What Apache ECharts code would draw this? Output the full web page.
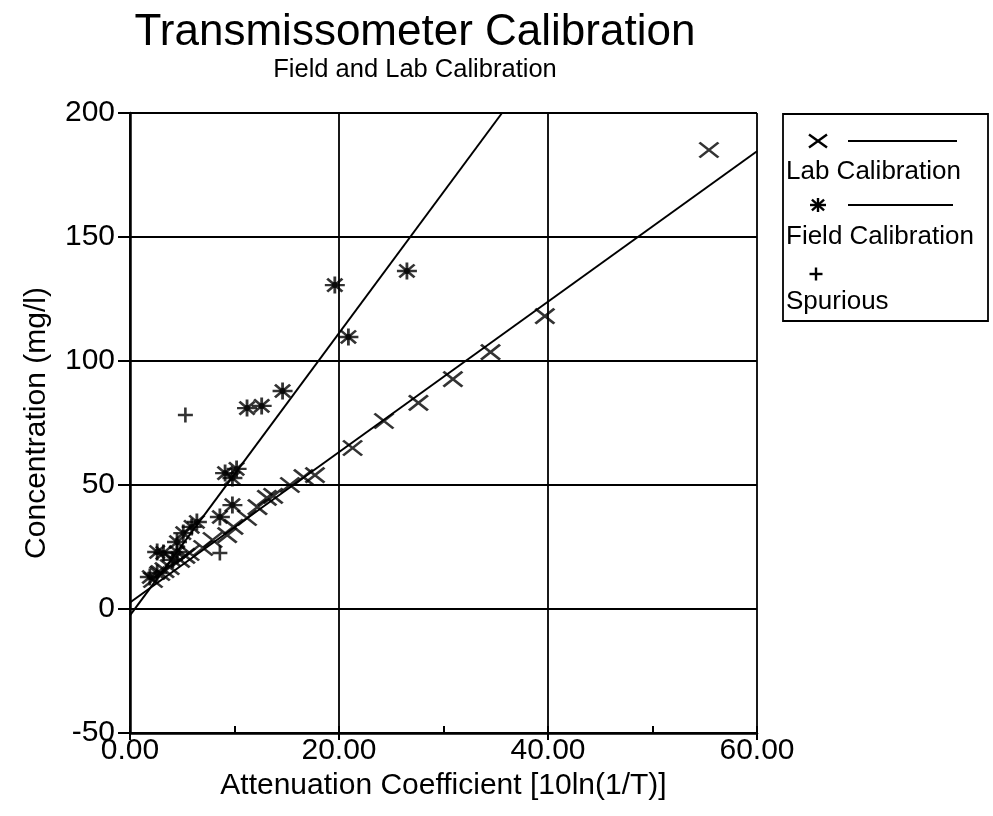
<!DOCTYPE html>
<html>
<head>
<meta charset="utf-8">
<script src="https://cdn.jsdelivr.net/npm/echarts@6/dist/echarts.min.js"></script>
<style>
  html, body { margin: 0; padding: 0; background: #fff; }
  #chart { width: 993px; height: 816px; }
</style>
</head>
<body>
<div id="chart"></div>
<script>
// Attenuation coefficient [10ln(1/T)] vs. concentration (mg/l)
const labCalibration = [
  [55.4, 185.1], [39.7, 118.1], [34.5, 103.6], [30.9, 92.7], [27.6, 83.1],
  [24.3, 75.8], [21.3, 64.9], [17.7, 54.0], [16.6, 53.2], [15.3, 50.0],
  [13.7, 45.6], [13.1, 44.8], [12.2, 41.1], [11.2, 36.7], [9.9, 33.1],
  [9.3, 29.8], [7.9, 27.8], [7.0, 24.6], [5.7, 22.6], [5.3, 21.4],
  [4.8, 19.8], [3.8, 16.9], [3.3, 15.7], [2.9, 14.5], [2.2, 11.7]
];
const fieldCalibration = [
  [26.5, 136.3], [19.6, 130.6], [20.9, 109.7], [14.6, 87.9], [12.6, 81.9],
  [11.2, 81.0], [10.2, 56.5], [9.1, 54.8], [9.8, 52.8], [9.8, 41.9],
  [8.6, 37.1], [6.4, 35.1], [5.9, 33.1], [5.1, 30.6], [4.5, 27.0],
  [2.6, 23.0], [3.2, 22.6], [4.5, 23.0], [4.1, 19.8], [2.6, 14.5],
  [1.9, 12.9]
];
const spurious = [[5.3, 78.2], [8.6, 22.6]];

// fitted calibration lines (end points)
const labFit = [[0, 2.6], [60, 184.6]];
const fieldFit = [[0, -2.6], [35.6, 200]];

const xTickValues = [0, 20, 40, 60];
const yTickValues = [-50, 0, 50, 100, 150, 200];

const FONT = '"Liberation Sans", Arial, Helvetica, sans-serif';
const INK = '#000';

// marker strokes in a unit box (x1, y1, x2, y2)
const STROKES_X = [[0, 0, 1, 1], [1, 0, 0, 1]];
const STROKES_STAR = [[0.5, 0, 0.5, 1], [0, 0.5, 1, 0.5], [0.12, 0.12, 0.88, 0.88], [0.88, 0.12, 0.12, 0.88]];
const STROKES_PLUS = [[0.5, 0, 0.5, 1], [0, 0.5, 1, 0.5]];

function toPath(strokes) {
  return 'path://' + strokes.map(s => 'M' + s[0] * 100 + ',' + s[1] * 100 + 'L' + s[2] * 100 + ',' + s[3] * 100).join('');
}

const chart = echarts.init(document.getElementById('chart'), null, { renderer: 'canvas' });

function markerSeries(name, data, strokes, size) {
  return {
    name, type: 'scatter', data, symbol: toPath(strokes), symbolSize: size,
    itemStyle: { color: 'rgba(0,0,0,0)', borderColor: INK, borderWidth: 2.6 },
    silent: true, z: 4
  };
}
function fitSeries(name, data) {
  return {
    name, type: 'line', data, symbol: 'none', silent: true, z: 3,
    lineStyle: { color: INK, width: 2 }
  };
}

// legend drawn as a boxed list: marker + line on one row, name below it
const legendX = 783, legendY = 114, legendW = 205, legendH = 207;
function seg(x1, y1, x2, y2, w) {
  return { type: 'line', shape: { x1, y1, x2, y2 }, style: { stroke: INK, lineWidth: w || 2 } };
}
function legendMarker(strokes, cx, cy, w, h) {
  const x0 = cx - w / 2, y0 = cy - h / 2;
  return strokes.map(s => seg(x0 + s[0] * w, y0 + s[1] * h, x0 + s[2] * w, y0 + s[3] * h, 2.4));
}
function legendText(text, y) {
  return {
    type: 'text', x: 786, y,
    style: { text, font: '26px ' + FONT, fill: INK, textVerticalAlign: 'middle', textAlign: 'left' }
  };
}

chart.setOption({
  animation: false,
  backgroundColor: '#fff',
  title: {
    text: 'Transmissometer Calibration',
    subtext: 'Field and Lab Calibration',
    left: 410, top: 6, textAlign: 'center', itemGap: 2,
    textStyle: { fontFamily: FONT, fontSize: 44, fontWeight: 'normal', color: INK },
    subtextStyle: { fontFamily: FONT, fontSize: 25.5, color: INK }
  },
  grid: { left: 130, right: 236, top: 113, bottom: 83 },
  xAxis: [{
    type: 'value', min: 0, max: 60, interval: 20,
    name: 'Attenuation Coefficient [10ln(1/T)]',
    nameLocation: 'middle', nameGap: 37,
    nameTextStyle: { fontFamily: FONT, fontSize: 30, color: INK },
    axisLine: { onZero: false, lineStyle: { color: INK, width: 2.5 } },
    axisTick: { length: 7, lineStyle: { color: INK, width: 2 } },
    axisLabel: {
      fontFamily: FONT, fontSize: 30, color: INK, margin: 3,
      formatter: v => xTickValues.includes(v) ? v.toFixed(2) : ''
    },
    splitLine: { show: true, lineStyle: { color: INK, width: 1.8 } }
  }, {
    // short inside ticks at the half steps
    type: 'value', min: 0, max: 60, interval: 10, position: 'bottom', offset: 0,
    axisLine: { show: false, onZero: false },
    axisTick: { inside: true, length: 7, lineStyle: { color: INK, width: 2 } },
    axisLabel: { show: false },
    splitLine: { show: false }
  }],
  yAxis: {
    type: 'value', min: -50, max: 200, interval: 50,
    name: 'Concentration (mg/l)',
    nameLocation: 'middle', nameGap: 78,
    nameTextStyle: { fontFamily: FONT, fontSize: 30, color: INK },
    axisLine: { onZero: false, lineStyle: { color: INK, width: 2.5 } },
    axisTick: { length: 12, lineStyle: { color: INK, width: 2 } },
    axisLabel: {
      fontFamily: FONT, fontSize: 30, color: INK, margin: 15,
      formatter: v => yTickValues.includes(v) ? String(v) : ''
    },
    splitLine: { show: true, lineStyle: { color: INK, width: 1.8 } }
  },
  series: [
    fitSeries('Lab Calibration fit', labFit),
    fitSeries('Field Calibration fit', fieldFit),
    markerSeries('Lab Calibration', labCalibration, STROKES_X, [19, 15]),
    markerSeries('Field Calibration', fieldCalibration, STROKES_STAR, [20, 17]),
    {
      // solid hub at the middle of each field marker
      name: 'Field Calibration hub', type: 'scatter', data: fieldCalibration,
      symbol: 'circle', symbolSize: 6, itemStyle: { color: INK }, silent: true, z: 5
    },
    markerSeries('Spurious', spurious, STROKES_PLUS, [15, 15])
  ],
  graphic: [
    { type: 'rect', shape: { x: legendX, y: legendY, width: legendW, height: legendH },
      style: { fill: '#fff', stroke: INK, lineWidth: 1.8 } },
    ...legendMarker(STROKES_X, 818, 141, 18, 13),
    seg(848, 141, 957, 141),
    legendText('Lab Calibration', 172),
    ...legendMarker(STROKES_STAR, 818, 205, 16, 14),
    seg(848, 205, 953, 205),
    legendText('Field Calibration', 237),
    ...legendMarker(STROKES_PLUS, 816, 274, 13, 13),
    legendText('Spurious', 302)
  ]
});
</script>
</body>
</html>
